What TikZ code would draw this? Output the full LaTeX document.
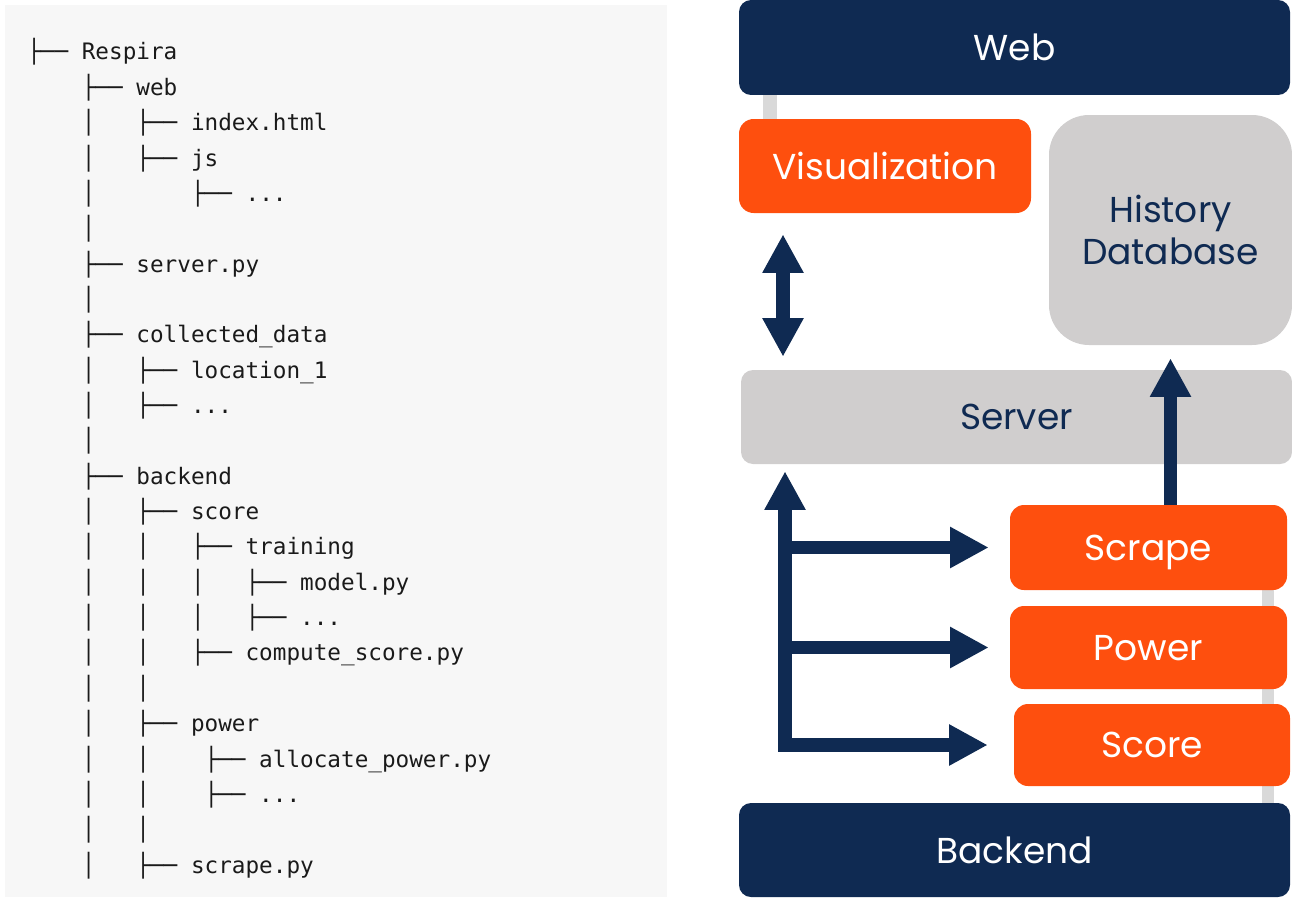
\documentclass[tikz,border=0pt]{standalone}
\usepackage{fontspec}
\usetikzlibrary{arrows.meta,calc,backgrounds}
\newfontfamily\treefont{DejaVu Sans Mono}
\newfontfamily\boxfont{Poppins}
\newcommand\treedots{...}
\definecolor{navy}{HTML}{0F2A52}
\definecolor{fire}{HTML}{FE4F0E}
\definecolor{boxgray}{HTML}{D0CECE}
\definecolor{bargray}{HTML}{D9D9D9}
\definecolor{panel}{HTML}{F7F7F7}
\definecolor{treetext}{HTML}{1A1A1A}
\tikzset{
  treeline/.style={anchor=base west, inner sep=0pt, text=treetext, font=\treefont\fontsize{17}{20}\selectfont},
  layer/.style={fill=navy, text=white, rounded corners=9pt, inner sep=0pt, font=\boxfont\fontsize{27}{32}\selectfont},
  module/.style={fill=fire, text=white, rounded corners=10.5pt, inner sep=0pt, text depth=0pt, font=\boxfont\fontsize{27}{32}\selectfont},
  store/.style={fill=boxgray, text=navy, inner sep=0pt, align=center, font=\boxfont\fontsize{27}{32}\selectfont},
  flow/.style={draw=navy, line width=10pt, -{Triangle[length=29pt,width=29pt]}},
  bar/.style={fill=bargray}
}
\begin{document}
\begin{tikzpicture}[x=0.75pt, y=-0.75pt]
  \useasboundingbox (0,0) rectangle (1292,899);
  % folder tree
  \fill[panel] (5,5) rectangle (667,897);
  \foreach \t [count=\i] in {
    ├──~Respira,
    ~~~~├──~web,
    ~~~~│~~~├──~index.html,
    ~~~~│~~~├──~js,
    ~~~~│~~~~~~~├──~\treedots,
    ~~~~│,
    ~~~~├──~server.py,
    ~~~~│,
    ~~~~├──~collected\_data,
    ~~~~│~~~├──~location\_1,
    ~~~~│~~~├──~\treedots,
    ~~~~│,
    ~~~~├──~backend,
    ~~~~│~~~├──~score,
    ~~~~│~~~│~~~├──~training,
    ~~~~│~~~│~~~│~~~├──~model.py,
    ~~~~│~~~│~~~│~~~├──~\treedots,
    ~~~~│~~~│~~~├──~compute\_score.py,
    ~~~~│~~~│,
    ~~~~│~~~├──~power,
    ~~~~│~~~│~~~~├──~allocate\_power.py,
    ~~~~│~~~│~~~~├──~\treedots,
    ~~~~│~~~│,
    ~~~~│~~~├──~scrape.py}
    \node[treeline] (row\i) at (27, {60+35.35*(\i-1)}) {\t};

  % architecture
  \node[layer, minimum width=413.25pt, minimum height=71.25pt] (web) at (1014.5,47.5) {Web};
  \node[module, rounded corners=11pt, minimum width=219pt, minimum height=70.5pt] (vis) at (885,166) {Visualization};
  \node[store, rounded corners=30pt, minimum width=182.25pt, minimum height=172.5pt] (hdb) at (1170.5,230) {History\\Database};
  \node[store, rounded corners=9pt, minimum width=413.25pt, minimum height=70.5pt] (server) at (1016.5,417) {Server};
  \node[module, minimum width=207.75pt, minimum height=63.75pt] (scrape) at (1148.5,547.5) {Scrape};
  \node[module, minimum width=207.75pt, minimum height=62.25pt] (power) at (1148.5,647.5) {Power};
  \node[module, minimum width=207pt, minimum height=61.5pt] (score) at (1152,745) {Score};
  \node[layer, minimum width=413.25pt, minimum height=70.5pt] (backend) at (1014.5,850) {Backend};

  \begin{scope}[on background layer]
    \fill[bar] ($(web.south west)+(24,-2)$) rectangle ($(vis.north west)+(38,2)$);
    \fill[bar] ($(scrape.south east)+(-25,-2)$) rectangle ($(backend.north east)+(-16,2)$);
  \end{scope}

  \coordinate (dbl) at (783,0);
  \coordinate (trunk) at (785,0);
  \draw[flow, {Triangle[length=29pt,width=29pt]}-{Triangle[length=29pt,width=29pt]}, shorten <=15.75pt, shorten >=9.75pt]
    (vis.south -| dbl) -- (server.north -| dbl);
  \draw[flow, {Triangle[length=29pt,width=29pt]}-{Triangle[length=29pt,width=29pt]}, shorten <=5.25pt, shorten >=19.5pt]
    (server.south -| trunk) |- (score.west);
  \draw[flow, shorten >=15.75pt] (trunk |- scrape.west) -- (scrape.west);
  \draw[flow, shorten >=15.75pt] (trunk |- power.west) -- (power.west);
  \draw[flow, shorten >=9.75pt] (scrape.north -| hdb.south) -- (hdb.south);
\end{tikzpicture}
\end{document}
